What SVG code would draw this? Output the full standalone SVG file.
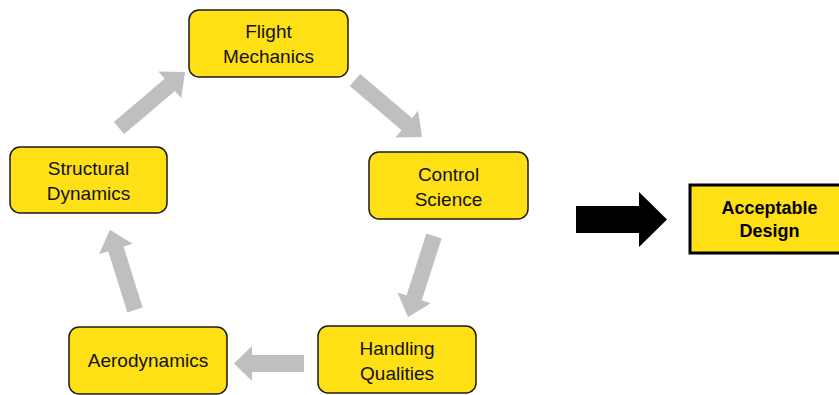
<svg xmlns="http://www.w3.org/2000/svg" width="839" height="395" viewBox="0 0 839 395">
<style>
.node{fill:#FFE015;stroke:#1a1a1a;stroke-width:1.5}
.final{fill:#FFE015;stroke:#000;stroke-width:3}
.lbl{font-family:"Liberation Sans",Arial,sans-serif;font-size:19px;fill:#111;text-anchor:middle}
.blbl{font-family:"Liberation Sans",Arial,sans-serif;font-size:18px;font-weight:bold;fill:#000;text-anchor:middle}
.garrow{fill:#BFBFBF}
</style>
<rect width="839" height="395" fill="#fff"/>
<g id="connectors">
<path class="garrow" transform="translate(119,128) rotate(-40.3)" d="M0,-8 H66.6 V-17.5 L86.6,0 L66.6,17.5 V8 H0 Z"/>
<path class="garrow" transform="translate(355,80) rotate(40.4)" d="M0,-8 H68 V-17.5 L88,0 L68,17.5 V8 H0 Z"/>
<path class="garrow" transform="translate(434,236) rotate(107.8)" d="M0,-8 H65 V-17.5 L85,0 L65,17.5 V8 H0 Z"/>
<path class="garrow" transform="translate(304,363.5) rotate(180)" d="M0,-8.5 H52 V-17.5 L70,0 L52,17.5 V8.5 H0 Z"/>
<path class="garrow" transform="translate(135,310) rotate(-107.4)" d="M0,-8 H64 V-17.5 L84,0 L64,17.5 V8 H0 Z"/>
<polygon fill="#000" points="576,206 639,206 639,192 667,219.5 639,247 639,233 576,233"/>
</g>
<g id="flight-mechanics">
<rect class="node" x="189" y="10" width="159" height="67" rx="10"/>
<text class="lbl" x="268.5" y="38">Flight</text>
<text class="lbl" x="268.5" y="63">Mechanics</text>
</g>
<g id="control-science">
<rect class="node" x="369" y="152" width="159" height="67" rx="10"/>
<text class="lbl" x="448.5" y="181">Control</text>
<text class="lbl" x="448.5" y="206">Science</text>
</g>
<g id="handling-qualities">
<rect class="node" x="318" y="326" width="158" height="67" rx="10"/>
<text class="lbl" x="397" y="355">Handling</text>
<text class="lbl" x="397" y="380">Qualities</text>
</g>
<g id="aerodynamics">
<rect class="node" x="69" y="327" width="158" height="67" rx="10"/>
<text class="lbl" x="148" y="367">Aerodynamics</text>
</g>
<g id="structural-dynamics">
<rect class="node" x="10" y="147" width="157" height="66" rx="10"/>
<text class="lbl" x="88.5" y="175">Structural</text>
<text class="lbl" x="88.5" y="200">Dynamics</text>
</g>
<g id="acceptable-design">
<rect class="final" x="690" y="185" width="159" height="68"/>
<text class="blbl" x="769.5" y="214">Acceptable</text>
<text class="blbl" x="769.5" y="237">Design</text>
</g>
</svg>
